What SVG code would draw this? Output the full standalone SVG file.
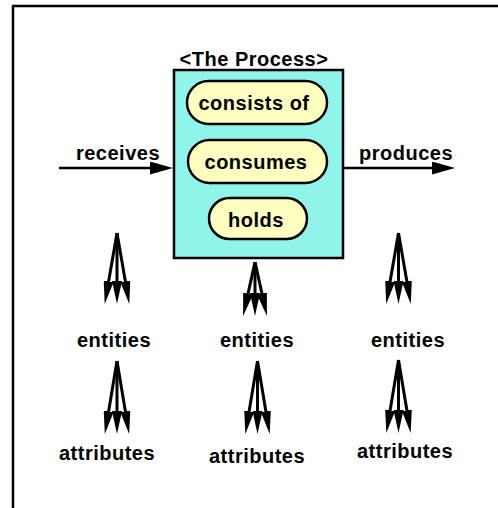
<svg xmlns="http://www.w3.org/2000/svg" width="498" height="508" viewBox="0 0 498 508">
<defs>
<style>
text{font-family:"Liberation Sans",Arial,Helvetica,sans-serif;font-weight:bold;font-size:20px;letter-spacing:0.5px;fill:#000;text-anchor:middle}
.frame{stroke:#000;stroke-width:2.5;fill:none}
.box{fill:#8FF5EB;stroke:#000;stroke-width:2.5}
.pill{fill:#FFFFBF;stroke:#000;stroke-width:2.5}
.tri{stroke:#000;stroke-width:3;fill:none;marker-end:url(#ah)}
.hz{stroke:#000;stroke-width:2.5;fill:none;marker-end:url(#ahH)}
</style>
<marker id="ah" markerUnits="userSpaceOnUse" markerWidth="23" markerHeight="10" refX="2" refY="5" orient="auto">
<path d="M0,0 L23,5 L0,10 z" fill="#000"/>
</marker>
<marker id="ahH" markerUnits="userSpaceOnUse" markerWidth="23" markerHeight="13" refX="3" refY="6.5" orient="auto">
<path d="M0,0 L23,6.5 L0,13 z" fill="#000"/>
</marker>
</defs>
<g id="frame">
<line class="frame" x1="12" y1="6" x2="498" y2="6"/>
<line class="frame" x1="13" y1="5" x2="13" y2="508"/>
</g>
<g id="process">
<text x="254" y="66">&lt;The Process&gt;</text>
<rect class="box" x="174" y="70" width="169" height="188"/>
</g>
<g id="consists-of">
<rect class="pill" x="187" y="81" width="140" height="43" rx="21.5"/>
<text x="254" y="110">consists of</text>
</g>
<g id="consumes">
<rect class="pill" x="188" y="140" width="139" height="43" rx="21.5"/>
<text x="256" y="169">consumes</text>
</g>
<g id="holds">
<rect class="pill" x="209" y="198" width="98" height="41" rx="20.5"/>
<text x="256" y="227">holds</text>
</g>
<g id="labels">
<text x="118" y="160">receives</text>
<text x="406" y="160">produces</text>
<text x="114" y="347">entities</text>
<text x="257" y="347">entities</text>
<text x="408" y="347">entities</text>
<text x="107" y="460">attributes</text>
<text x="257" y="463">attributes</text>
<text x="405" y="458">attributes</text>
</g>
<g id="connectors">
<line class="hz" x1="59" y1="168" x2="153" y2="168"/>
<line class="hz" x1="343" y1="168" x2="435" y2="168"/>
<line class="tri" x1="117" y1="233" x2="108.3" y2="283.3"/>
<line class="tri" x1="117" y1="233" x2="117" y2="283"/>
<line class="tri" x1="117" y1="233" x2="125.7" y2="283.3"/>
<line class="tri" x1="255" y1="262" x2="247.6" y2="295.6"/>
<line class="tri" x1="255" y1="262" x2="255" y2="295"/>
<line class="tri" x1="255" y1="262" x2="262.4" y2="295.6"/>
<line class="tri" x1="398.5" y1="233" x2="389.8" y2="283.3"/>
<line class="tri" x1="398.5" y1="233" x2="398.5" y2="283"/>
<line class="tri" x1="398.5" y1="233" x2="407.2" y2="283.3"/>
<line class="tri" x1="117" y1="361" x2="108.3" y2="413.3"/>
<line class="tri" x1="117" y1="361" x2="117" y2="413"/>
<line class="tri" x1="117" y1="361" x2="125.7" y2="413.3"/>
<line class="tri" x1="257.5" y1="361" x2="248.8" y2="413.3"/>
<line class="tri" x1="257.5" y1="361" x2="257.5" y2="413"/>
<line class="tri" x1="257.5" y1="361" x2="266.2" y2="413.3"/>
<line class="tri" x1="398.5" y1="360" x2="389.8" y2="412.3"/>
<line class="tri" x1="398.5" y1="360" x2="398.5" y2="412"/>
<line class="tri" x1="398.5" y1="360" x2="407.2" y2="412.3"/>
</g>
</svg>
